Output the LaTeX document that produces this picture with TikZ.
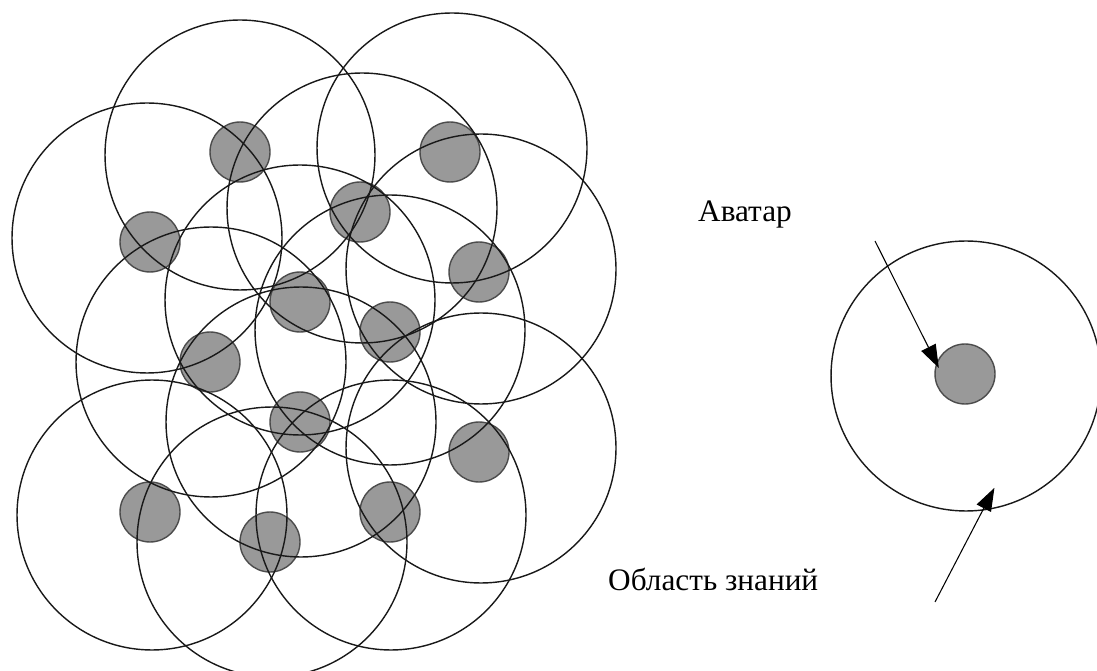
\documentclass[tikz,border=0pt]{standalone}
\usepackage{fontspec}
\setmainfont{Liberation Serif}
\usetikzlibrary{arrows.meta, calc}

\begin{document}
\begin{tikzpicture}[
    x=0.02cm, y=-0.02cm,
    >={Triangle[length=0.46cm, width=0.32cm]},
    every node/.style={font=\fontsize{17.8}{21}\selectfont},
    avatar/.style={
        circle, draw=black!70, fill=black!40, line width=0.8pt,
        minimum size=1.2cm, inner sep=0pt
    },
    zone/.style={
        circle, draw=black!90, line width=0.8pt,
        minimum size=5.4cm, inner sep=0pt
    },
    pointer/.style={->, draw=black, line width=0.6pt},
]
\useasboundingbox (0,0) rectangle (1097,671);

% === Avatars of the group ===
\node[avatar] (av1) at (240,152) {};
\node[avatar] (av2) at (450,152) {};
\node[avatar] (av3) at (150,242) {};
\node[avatar] (av4) at (360,212) {};
\node[avatar] (av5) at (479,272) {};
\node[avatar] (av6) at (300,302) {};
\node[avatar] (av7) at (390,332) {};
\node[avatar] (av8) at (210,362) {};
\node[avatar] (av9) at (300,422) {};
\node[avatar] (av10) at (479,452) {};
\node[avatar] (av11) at (150,512) {};
\node[avatar] (av12) at (390,512) {};
\node[avatar] (av13) at (270,542) {};

% === Knowledge areas of the group ===
\node[zone] (zone1) at (240,155) {};
\node[zone] (zone2) at (452,148) {};
\node[zone] (zone3) at (147,238) {};
\node[zone] (zone4) at (362,208) {};
\node[zone] (zone5) at (481,269) {};
\node[zone] (zone6) at (300,300) {};
\node[zone] (zone7) at (390,330) {};
\node[zone] (zone8) at (211,362) {};
\node[zone] (zone9) at (301,422) {};
\node[zone] (zone10) at (481,448) {};
\node[zone] (zone11) at (152,515) {};
\node[zone] (zone12) at (391,515) {};
\node[zone] (zone13) at (272,542) {};

% === Single avatar with its area ===
\node[avatar] (avR) at (965,374) {};
\node[zone] (zoneR) at (966,376) {};

% === Labels ===
\node[anchor=base west] (lblavatar) at (692,222) {Аватар};
\node[anchor=base west] (lblzone) at (602,590) {Область знаний};

% ===== ARROWS =====
\coordinate (avstart) at (875,241);
\coordinate (zonestart) at (935,602);

% Label -> avatar
\draw[pointer] (avstart) -- ($(avstart)!1.04!(avR.159)$);

% Label -> knowledge area
\draw[pointer] (zonestart) -- ($(zonestart)!1.25!(zoneR.-83)$);

\end{tikzpicture}
\end{document}
